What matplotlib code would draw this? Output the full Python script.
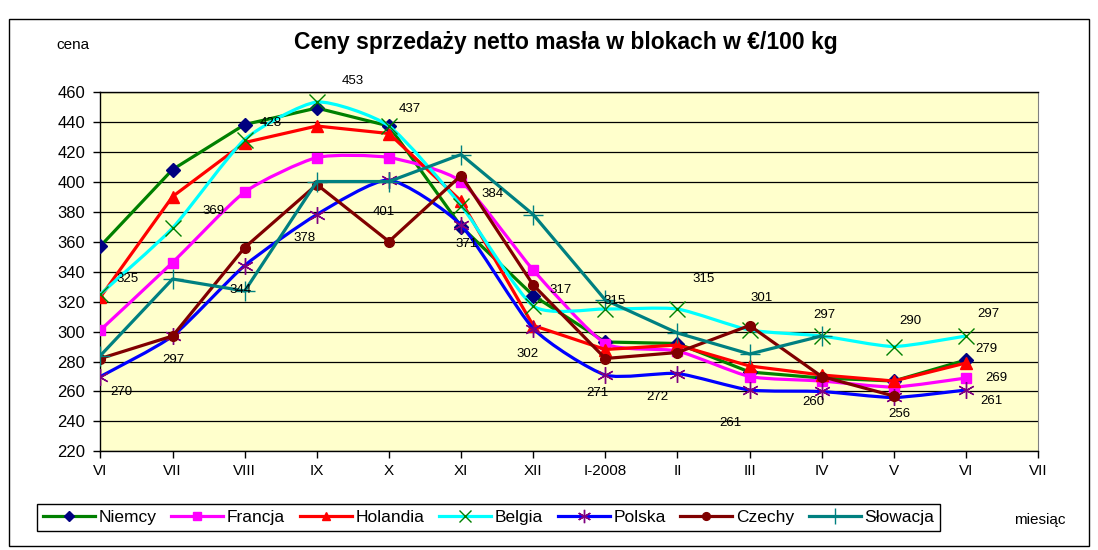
import numpy as np
import matplotlib
matplotlib.use('Agg')
import matplotlib.pyplot as plt
from matplotlib.path import Path
from matplotlib.patches import PathPatch, Rectangle
from matplotlib.lines import Line2D

plt.rcParams['font.family'] = ['Liberation Sans', 'DejaVu Sans']

# miesiące (ostatni bez danych)
months = ['VI', 'VII', 'VIII', 'IX', 'X', 'XI', 'XII', 'I-2008', 'II', 'III', 'IV', 'V', 'VI', 'VII']

niemcy = [357, 408, 438, 449, 437, 370, 324, 293, 292, 273, 269, 267, 281]
francja = [301, 346, 393, 416, 416, 400, 341, 292, 287, 270, 267, 263, 269]
holandia = [323, 390, 426, 437, 432, 387, 304, 288, 291, 277, 271, 267, 279]
belgia = [325, 369, 428, 453, 437, 384, 317, 315, 315, 301, 297, 290, 297]
polska = [270, 297, 344, 378, 401, 371, 302, 271, 272, 261, 260, 256, 261]
czechy = [282, 297, 356, 398, 360, 404, 331, 282, 286, 304, 270, 257, np.nan]
slowacja = [284, 335, 327, 400, 400, 418, 378, 321, 299, 285, 297, np.nan, np.nan]

# nazwa, dane, kolor linii, marker, kolor markera, rozmiar, wygładzona
series = [
    ('Niemcy', niemcy, '#008000', 'D', '#000080', 7, False),
    ('Francja', francja, '#FF00FF', 's', '#FF00FF', 7, True),
    ('Holandia', holandia, '#FF0000', '^', '#FF0000', 8, False),
    ('Belgia', belgia, '#00FFFF', 'x', '#008000', 11, True),
    ('Polska', polska, '#0000FF', (6, 2, 0), '#800080', 12, True),
    ('Czechy', czechy, '#800000', 'o', '#800000', 7, False),
    ('Słowacja', slowacja, '#008080', '+', '#008080', 14, False),
]

# przesunięcia etykiet (piksele)
belgia_off = [(27, 15), (41, 17), (26, 17), (36, 21), (21, 17), (31, 12), (27, 16),
              (9, 8), (26, 30), (12, 32), (3, 21), (17, 26), (22, 22)]
polska_off = [(21, -15), (1, -24), (-4, -24), (-12, -23), (-5, -32), (6, -19), (-6, -25),
              (-8, -18), (-20, -23), (-19, -33), (-8, -11), (6, -17), (26, -11)]


def smooth_path(x, y, k=0.1):
    pts = np.column_stack([x, y]).astype(float)
    n = len(pts)
    verts = [pts[0]]
    codes = [Path.MOVETO]
    for i in range(n - 1):
        p0 = pts[i - 1] if i > 0 else pts[i]
        p3 = pts[i + 2] if i + 2 < n else pts[i + 1]
        c1 = pts[i] + (pts[i + 1] - p0) * k
        c2 = pts[i + 1] - (p3 - pts[i]) * k
        verts += [c1, c2, pts[i + 1]]
        codes += [Path.CURVE4] * 3
    return Path(verts, codes)


fig = plt.figure(figsize=(10.98, 5.5), dpi=100)
ax = fig.add_axes([0.0915, 0.1791, 0.8539, 0.6545])
ax.set_facecolor('#FFFFCC')

x = np.arange(len(niemcy))
handles = []
for z, (name, vals, lc, mk, mc, ms, smooth) in enumerate(series):
    vals = np.array(vals, dtype=float)
    ok = ~np.isnan(vals)
    if smooth:
        ax.add_patch(PathPatch(smooth_path(x[ok], vals[ok]), facecolor='none', edgecolor=lc,
                               lw=2.3, zorder=3 + z))
        ax.plot(x[ok], vals[ok], ls='none', marker=mk, ms=ms, mfc=mc, mec=mc, mew=1, zorder=3 + z)
    else:
        ax.plot(x[ok], vals[ok], color=lc, lw=2.3, marker=mk, ms=ms, mfc=mc, mec=mc, mew=1,
                zorder=3 + z)
    handles.append(Line2D([], [], color=lc, lw=2.3, marker=mk, ms=ms * 0.8, mfc=mc, mec=mc, mew=1))

# etykiety danych
for i, v in enumerate(belgia):
    ax.annotate(str(v), (x[i], v), xytext=belgia_off[i], textcoords='offset pixels',
                ha='center', va='center', fontsize=9.5, zorder=20)
for i, v in enumerate(polska):
    ax.annotate(str(v), (x[i], v), xytext=polska_off[i], textcoords='offset pixels',
                ha='center', va='center', fontsize=9.5, zorder=20)
ax.annotate(str(holandia[12]), (x[12], holandia[12]), xytext=(20, 14), textcoords='offset pixels',
            ha='center', va='center', fontsize=9.5, zorder=20)
ax.annotate(str(francja[12]), (x[12], francja[12]), xytext=(30, 0), textcoords='offset pixels',
            ha='center', va='center', fontsize=9.5, zorder=20)

ax.set_xlim(0, len(months) - 1)
ax.set_ylim(220, 460)
ax.set_xticks(np.arange(len(months)))
ax.set_xticklabels(months)
ax.set_yticks(np.arange(220, 461, 20))
ax.yaxis.grid(True, color='black', lw=0.9)
ax.set_axisbelow(True)
ax.tick_params(direction='out', length=5, width=1, labelsize=11)
ax.tick_params(axis='x', pad=4)
ax.tick_params(axis='y', pad=6, labelsize=12)
ax.spines['right'].set_color('#808080')
for s in ['left', 'bottom', 'top']:
    ax.spines[s].set_color('black')
    ax.spines[s].set_linewidth(1)

fig.text(0.515, 0.922, 'Ceny sprzedaży netto masła w blokach w €/100 kg', ha='center', va='center',
         fontsize=16.5, fontweight='bold')
fig.text(0.066, 0.918, 'cena', ha='center', va='center', fontsize=11)
fig.text(0.947, 0.055, 'miesiąc', ha='center', va='center', fontsize=11)

leg = fig.legend(handles, [s[0] for s in series], loc='center', bbox_to_anchor=(0.445, 0.059),
                 ncol=7, frameon=True, fancybox=False, edgecolor='black', framealpha=1,
                 fontsize=12.5, handlelength=3.0, columnspacing=0.85, handletextpad=0.2,
                 borderpad=0.35, borderaxespad=0)
leg.get_frame().set_linewidth(1)

fig.patches.append(Rectangle((0.008, 0.008), 0.984, 0.958, transform=fig.transFigure,
                             fill=False, edgecolor='black', lw=1))

fig.savefig('out.png', dpi=100)
